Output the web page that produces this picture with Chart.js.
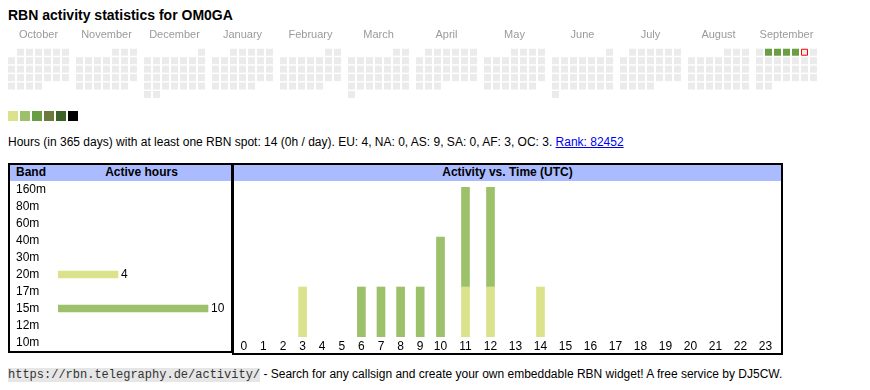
<!DOCTYPE html>
<html>
<head>
<meta charset="utf-8">
<script src="https://cdn.jsdelivr.net/npm/chart.js@4"></script>
<style>
  html, body { margin: 0; padding: 0; background: #fff; }
  body { width: 870px; height: 390px; position: relative; overflow: hidden;
         font-family: "Liberation Sans", Arial, sans-serif; font-size: 12px; color: #000; }
  .abs { position: absolute; }
  #title { left: 8px; top: 7px; font-size: 14px; font-weight: bold; line-height: 16px; white-space: nowrap; }
  #legend { left: 8px; top: 111px; height: 10px; }
  #legend span { display: inline-block; width: 10px; height: 10px; margin-right: 2px; vertical-align: top; }
  #stats { left: 8px; top: 135px; line-height: 14px; white-space: nowrap; }
  #stats a { color: #0000ee; text-decoration: underline; }
  .box { box-sizing: border-box; border: 2px solid #000; background: #fff; }
  .hdr { position: absolute; left: 0; top: 0; right: 0; height: 16px; background: #aabbff;
         font-weight: bold; line-height: 15px; white-space: nowrap; }
  #footer { left: 8px; top: 367px; line-height: 14px; white-space: nowrap; }
  #footer code { font-family: "Liberation Mono", "DejaVu Sans Mono", monospace; font-size: 12px;
                 background: #e6e6e6; color: #333; }
</style>
</head>
<body>
<div id="title" class="abs">RBN activity statistics for OM0GA</div>
<canvas id="cal" class="abs" width="870" height="104" style="left:0;top:0"></canvas>
<div id="legend" class="abs"></div>
<div id="stats" class="abs">Hours (in 365 days) with at least one RBN spot: 14 (0h / day). EU: 4, NA: 0, AS: 9, SA: 0, AF: 3, OC: 3. <a href="#">Rank: 82452</a></div>

<div id="bandBox" class="abs box" style="left:8px;top:163px;width:225px;height:190px">
  <div class="hdr"><span style="position:absolute;left:6px">Band</span><span style="position:absolute;left:48px;width:167px;text-align:center">Active hours</span></div>
</div>
<canvas id="bandChart" class="abs" width="221" height="170" style="left:10px;top:181px"></canvas>

<div id="timeBox" class="abs box" style="left:232px;top:163px;width:551px;height:192px">
  <div class="hdr" style="text-align:center">Activity vs. Time (UTC)</div>
</div>
<canvas id="hoursA" class="abs" width="196" height="172" style="left:234px;top:181px"></canvas>
<canvas id="hoursB" class="abs" width="350" height="172" style="left:428px;top:181px"></canvas>

<div id="footer" class="abs"><code>https://rbn.telegraphy.de/activity/</code> - Search for any callsign and create your own embeddable RBN widget! A free service by DJ5CW.</div>

<script>
// ---------------- data ----------------
const calMonths = ['October','November','December','January','February','March','April','May','June','July','August','September'];
const calStartYear = 2024;
const calStartMonth = 10;           // October (1-based)
const activeDates = ['2025-09-02','2025-09-03','2025-09-04','2025-09-05'];
const activeLevels = [3, 3, 3, 3];
const todayDate = '2025-09-06';
const levelColors = ['#dbe28c', '#9dc06b', '#6a9e45', '#6b7b3b', '#3b6327', '#000000'];

const bands = ['160m','80m','60m','40m','30m','20m','17m','15m','12m','10m'];
const bandHours = [0, 0, 0, 0, 0, 4, 0, 10, 0, 0];
const bandLevel = [0, 0, 0, 0, 0, 1, 0, 2, 0, 0];   // colour level per band

const hourLabels = ['0','1','2','3','4','5','6','7','8','9','10','11','12','13','14','15','16','17','18','19','20','21','22','23'];
const spots20m = [0,0,0,1,0,0,0,0,0,0,0,1,1,0,1,0,0,0,0,0,0,0,0,0];
const spots15m = [0,0,0,0,0,0,1,1,1,1,2,2,2,0,0,0,0,0,0,0,0,0,0,0];

// ---------------- setup ----------------
Chart.defaults.font.family = '"Liberation Sans", Arial, sans-serif';
Chart.defaults.font.size = 12;
Chart.defaults.color = '#000';
Chart.defaults.animation = false;
Chart.defaults.events = [];
Chart.defaults.plugins.legend.display = false;
Chart.defaults.plugins.tooltip.enabled = false;

const nz = arr => arr.map(v => (v ? v : null));

// legend swatches
const lg = document.getElementById('legend');
levelColors.forEach(c => { const s = document.createElement('span'); s.style.background = c; lg.appendChild(s); });

// ---------------- calendar ----------------
const CAL_GRAY = '#ebebeb';
const monthPitch = 68 / 9;     // block spacing in cell units
const calPoints = [], calFill = [], calBorder = [], calBW = [], calR = [];
function iso(y, m, d) { return y + '-' + String(m).padStart(2,'0') + '-' + String(d).padStart(2,'0'); }
for (let mi = 0; mi < calMonths.length; mi++) {
  const m0 = calStartMonth - 1 + mi;
  const y = calStartYear + Math.floor(m0 / 12);
  const mo = m0 % 12;
  const firstWd = (new Date(Date.UTC(y, mo, 1)).getUTCDay() + 6) % 7;
  const nDays = new Date(Date.UTC(y, mo + 1, 0)).getUTCDate();
  for (let d = 1; d <= nDays; d++) {
    const idx = firstWd + d - 1;
    const ds = iso(y, mo + 1, d);
    calPoints.push({ x: mi * monthPitch + (idx % 7), y: Math.floor(idx / 7) });
    const ai = activeDates.indexOf(ds);
    calFill.push(ai >= 0 ? levelColors[activeLevels[ai] - 1] : CAL_GRAY);
    const isToday = ds === todayDate;
    calBorder.push(isToday ? '#ff0000' : 'rgba(0,0,0,0)');
    calBW.push(isToday ? 1 : 0);
    calR.push(isToday ? 3 / Math.SQRT1_2 : 3.5 / Math.SQRT1_2);
  }
}
const monthTicks = calMonths.map((_, mi) => ({ value: mi * monthPitch + 3 }));

new Chart(document.getElementById('cal'), {
  type: 'scatter',
  data: { datasets: [{ data: calPoints, pointStyle: 'rect', pointRadius: calR,
    backgroundColor: calFill, borderColor: calBorder, borderWidth: calBW, clip: false }] },
  options: {
    responsive: false,
    layout: { padding: { left: 7, right: 52, top: 28, bottom: 2 } },
    scales: {
      x: { type: 'linear', position: 'top', min: -0.5, max: 11 * monthPitch + 6.5,
           grid: { display: false, drawTicks: false }, border: { display: false },
           afterBuildTicks: ax => { ax.ticks = monthTicks.map(t => ({ value: t.value })); },
           afterFit: ax => { ax.height = 20; },
           ticks: { autoSkip: false, maxRotation: 0, padding: 6, color: '#9a9a9a', font: { size: 11 },
                    callback: (v, i) => calMonths[i] } },
      y: { type: 'linear', min: -0.5, max: 5.5, reverse: true, display: false }
    }
  }
});

// ---------------- band chart ----------------
const valueLabels = {
  id: 'valueLabels',
  afterDatasetsDraw(chart) {
    const ctx = chart.ctx;
    const ds = chart.data.datasets[0];
    chart.getDatasetMeta(0).data.forEach((bar, i) => {
      const v = ds.data[i];
      if (!v) return;
      ctx.save();
      ctx.font = '12px "Liberation Sans", Arial, sans-serif';
      ctx.fillStyle = '#000';
      ctx.textBaseline = 'middle';
      ctx.textAlign = 'left';
      ctx.fillText(String(v), bar.x + 3, bar.y);
      ctx.restore();
    });
  }
};
new Chart(document.getElementById('bandChart'), {
  type: 'bar',
  data: { labels: bands, datasets: [{ data: nz(bandHours), barThickness: 7,
    backgroundColor: bandLevel.map(l => l ? levelColors[l - 1] : 'rgba(0,0,0,0)') }] },
  options: {
    responsive: false, indexAxis: 'y',
    layout: { padding: { left: 6, right: 8, top: 0, bottom: 0 } },
    scales: {
      x: { display: false, min: 0, max: 11 },
      y: { grid: { display: false, drawTicks: false }, border: { display: false },
           afterFit: ax => { ax.width = 42; ax.paddingTop = 0; ax.paddingBottom = 0; },
           ticks: { autoSkip: false, crossAlign: 'far', padding: 0, color: '#000' } }
    }
  },
  plugins: [valueLabels]
});

// ---------------- hours chart (two table segments) ----------------
function hourChart(id, from, to) {
  return new Chart(document.getElementById(id), {
    type: 'bar',
    data: { labels: hourLabels.slice(from, to), datasets: [
      { label: '20m', data: nz(spots20m.slice(from, to)), backgroundColor: levelColors[0], barThickness: 8 },
      { label: '15m', data: nz(spots15m.slice(from, to)), backgroundColor: levelColors[1], barThickness: 8 }
    ] },
    options: {
      responsive: false,
      layout: { padding: { left: 0, right: 0, top: 6, bottom: 0 } },
      scales: {
        x: { stacked: true, grid: { display: false, drawTicks: false }, border: { display: false },
             afterFit: ax => { ax.height = 16; ax.paddingLeft = 0; ax.paddingRight = 0; },
             ticks: { autoSkip: false, maxRotation: 0, padding: 2, color: '#000' } },
        y: { stacked: true, display: false, min: 0, max: 3 }
      }
    }
  });
}
hourChart('hoursA', 0, 10);
hourChart('hoursB', 10, 24);
</script>
</body>
</html>
